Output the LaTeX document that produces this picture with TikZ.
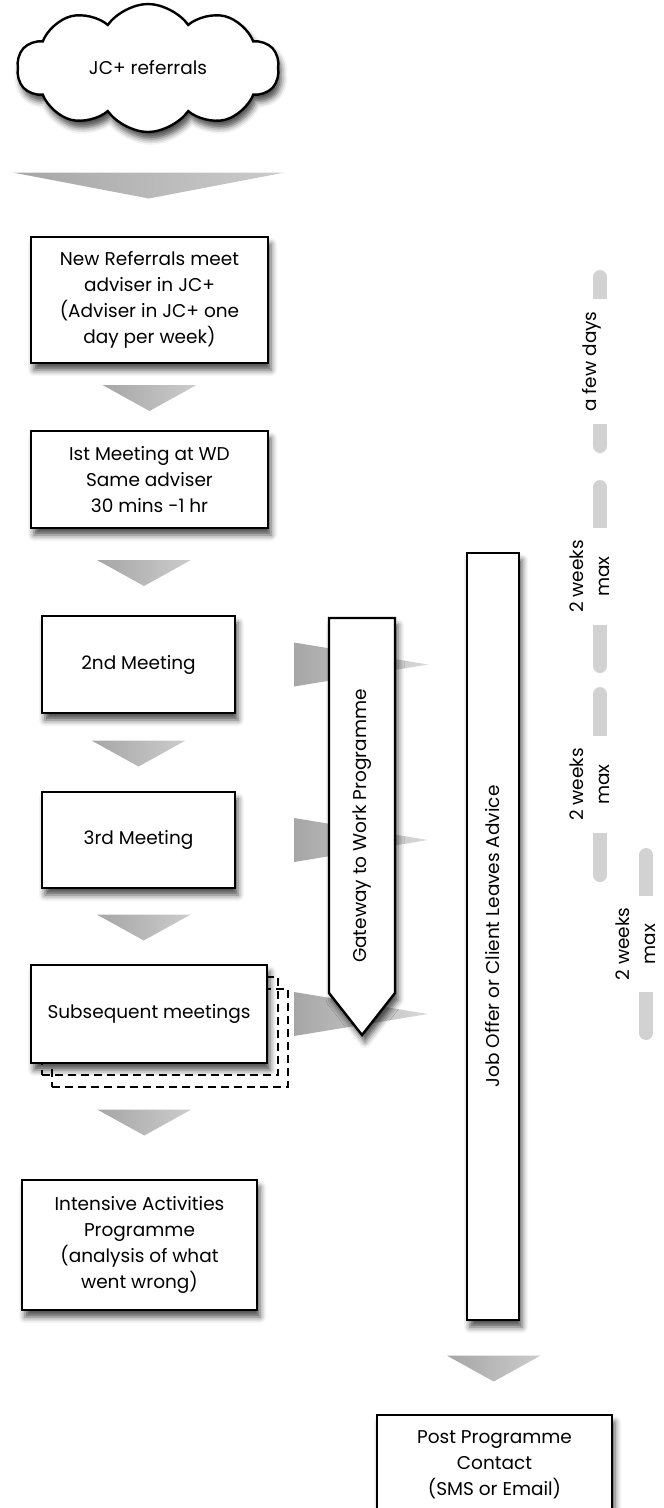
\documentclass[tikz,border=0pt]{standalone}
\usepackage{fontspec}
\setmainfont{Poppins}
\usetikzlibrary{shapes.symbols,shadows.blur,calc}

\begin{document}
\begin{tikzpicture}[x=1pt, y=-1pt, line width=2.4pt, font=\fontsize{18.5}{26}\selectfont,
    box/.style={draw=black, fill=white, align=center, inner sep=0pt,
      blur shadow={shadow xshift=3pt, shadow yshift=-7pt, shadow blur radius=6pt, shadow opacity=70}},
    flowtri/.style={left color=gray!70, right color=gray!40},
    sidetri/.style={left color=gray!70, right color=gray!30},
    timeline/.style={line width=14pt, line cap=round, draw=gray!35},
    gaplabel/.style={fill=white, rotate=90, align=center, inner xsep=12pt, inner ysep=2pt, minimum height=34pt}]
   \useasboundingbox (0,0) rectangle (664,1508);
   \clip (0,0) rectangle (664,1508);

   % main column
   \node[box, cloud, cloud puffs=10, cloud puff arc=110, cloud ignores aspect,
     minimum width=262pt, minimum height=128pt] (jc) at (148,68) {JC+ referrals};
   \node[box, minimum width=237pt, minimum height=126pt] (refer) at (149.5,300)
     {New Referrals meet\\adviser in JC+\\(Adviser in JC+ one\\day per week)};
   \node[box, minimum width=237pt, minimum height=97pt] (first) at (149.5,479.5)
     {Ist Meeting at WD\\Same adviser\\30 mins -1 hr};
   \node[box, minimum width=193pt, minimum height=97pt] (second) at (138.5,664.5) {2nd Meeting};
   \node[box, minimum width=193pt, minimum height=96pt] (third) at (138.5,840) {3rd Meeting};
   \begin{scope}[every node/.style={draw=black, line width=2pt, dash pattern=on 8pt off 5pt, minimum width=236pt, minimum height=98pt}]
    \node (subseqb) at (170,1038) {};
    \node (subseqa) at (160,1026) {};
   \end{scope}
   \node[box, minimum width=236pt, minimum height=98pt] (subseq) at (149,1014) {Subsequent meetings};
   \node[box, minimum width=235pt, minimum height=130pt] (intens) at (139.5,1245)
     {Intensive Activities\\Programme\\(analysis of what\\went wrong)};

   % arrows towards the programmes
   \coordinate (tribase) at (294,0);
   \foreach \m in {second, third, subseq}
     \shade[sidetri] (\m.east -| tribase) ++(0,-22) -- ++(0,44) -- ++(134,-22) -- cycle;

   \draw[box] (329,618) -- (395,618) -- (395,993) -- (362,1035) -- (329,993) -- cycle;
   \node[rotate=90] (gateway) at (362,826) {Gateway to Work Programme};

   \node[box, minimum width=52pt, minimum height=767pt] (offer) at (493,936.5) {};
   \node[rotate=90] (offertext) at (offer) {Job Offer or Client Leaves Advice};
   \node[box, minimum width=235pt, minimum height=100pt] (post) at (494.5,1465)
     {Post Programme\\Contact\\(SMS or Email)};

   % down arrows
   \shade[flowtri] ($(jc.south)!.5!(refer.north)$) +(-136,-12) -- +(136,-12) -- +(0,14) -- cycle;
   \foreach \a/\b in {refer/first, first/second, second/third, third/subseq, subseq/intens, offer/post}
     \shade[flowtri] ($(\a.south)!.5!(\b.north)$) +(-47,-12) -- +(47,-12) -- +(0,14) -- cycle;

   % time line
   \coordinate (t1a) at (600,277);  \coordinate (t1b) at (600,446);
   \coordinate (t2a) at (600,487);  \coordinate (t2b) at (600,666);
   \coordinate (t3a) at (600,694);  \coordinate (t3b) at (600,875);
   \coordinate (t4a) at (646,855);  \coordinate (t4b) at (646,1033);
   \draw[timeline] (t1a) -- (t1b);
   \draw[timeline] (t2a) -- (t2b);
   \draw[timeline] (t3a) -- (t3b);
   \draw[timeline] (t4a) -- (t4b);
   \node[gaplabel] (days) at ($(t1a)!.5!(t1b)+(-8,0)$) {a few days};
   \node[gaplabel] (weeksa) at ($(t2a)!.5!(t2b)+(-10,0)$) {2 weeks\\max};
   \node[gaplabel] (weeksb) at ($(t3a)!.5!(t3b)+(-10,0)$) {2 weeks\\max};
   \node[gaplabel] (weeksc) at ($(t4a)!.5!(t4b)+(-10,0)$) {2 weeks\\max};
\end{tikzpicture}
\end{document}
